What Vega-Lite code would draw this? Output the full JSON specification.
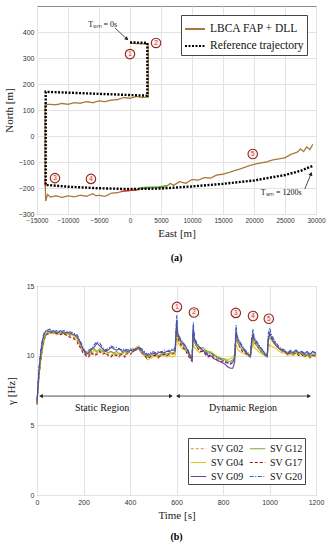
{
  "$schema": "https://vega.github.io/schema/vega-lite/v6.json",
  "padding": {"left": 2, "top": 5, "right": 10, "bottom": 2},
  "background": "white",
  "spacing": 18,
  "config": {
    "axis": {"labelFont": "Liberation Sans", "labelFontSize": 7, "labelColor": "#333333", "titleFont": "Liberation Serif", "titleFontSize": 11, "titleFontWeight": "normal", "titleColor": "#222222", "gridColor": "#e3e3e3", "domain": false, "ticks": false, "labelPadding": 3, "labelOverlap": false, "format": "d"},
    "view": {"stroke": "#8a8a8a"},
    "legend": {"labelFont": "Liberation Serif", "labelFontSize": 11.5, "labelColor": "#111111", "fillColor": "white", "strokeColor": "#444444", "padding": 3, "symbolType": "stroke", "symbolSize": 400, "symbolStrokeWidth": 1.8, "title": null, "rowPadding": -7}
  },
  "resolve": {"scale": {"x": "independent", "y": "independent", "color": "independent", "strokeDash": "independent"}, "legend": {"color": "independent", "strokeDash": "independent"}},
  "vconcat": [
    {
      "width": 279,
      "height": 208,
      "title": {"text": "(a)", "orient": "bottom", "font": "Liberation Serif", "fontSize": 10, "fontWeight": "bold", "offset": 14},
      "encoding": {
        "x": {"field": "east", "type": "quantitative", "scale": {"domain": [-15000, 30000]}, "axis": {"values": [-15000, -10000, -5000, 0, 5000, 10000, 15000, 20000, 25000, 30000], "title": "East [m]", "titlePadding": 4, "labelOverlap": false, "labelFlush": false, "labelFontSize": 6.5}},
        "y": {"field": "north", "type": "quantitative", "scale": {"domain": [-300, 500]}, "axis": {"values": [-300, -200, -100, 0, 100, 200, 300, 400], "title": "North [m]", "titlePadding": 4, "labelOverlap": false}}
      },
      "layer": [
        {
          "data": {"values": [
            {"series": "LBCA FAP + DLL", "i": 0, "east": 0, "north": 357},
            {"series": "LBCA FAP + DLL", "i": 1, "east": 1500, "north": 355},
            {"series": "LBCA FAP + DLL", "i": 2, "east": 2900, "north": 353},
            {"series": "LBCA FAP + DLL", "i": 3, "east": 2950, "north": 300},
            {"series": "LBCA FAP + DLL", "i": 4, "east": 2950, "north": 200},
            {"series": "LBCA FAP + DLL", "i": 5, "east": 2950, "north": 150},
            {"series": "LBCA FAP + DLL", "i": 6, "east": 2000, "north": 148},
            {"series": "LBCA FAP + DLL", "i": 7, "east": 1000, "north": 152},
            {"series": "LBCA FAP + DLL", "i": 8, "east": 0, "north": 145},
            {"series": "LBCA FAP + DLL", "i": 9, "east": -1000, "north": 148},
            {"series": "LBCA FAP + DLL", "i": 10, "east": -2000, "north": 140},
            {"series": "LBCA FAP + DLL", "i": 11, "east": -3000, "north": 138},
            {"series": "LBCA FAP + DLL", "i": 12, "east": -4000, "north": 132},
            {"series": "LBCA FAP + DLL", "i": 13, "east": -5000, "north": 135},
            {"series": "LBCA FAP + DLL", "i": 14, "east": -6000, "north": 128},
            {"series": "LBCA FAP + DLL", "i": 15, "east": -7000, "north": 132},
            {"series": "LBCA FAP + DLL", "i": 16, "east": -8000, "north": 126},
            {"series": "LBCA FAP + DLL", "i": 17, "east": -9000, "north": 128},
            {"series": "LBCA FAP + DLL", "i": 18, "east": -10000, "north": 122},
            {"series": "LBCA FAP + DLL", "i": 19, "east": -11000, "north": 125},
            {"series": "LBCA FAP + DLL", "i": 20, "east": -12000, "north": 120},
            {"series": "LBCA FAP + DLL", "i": 21, "east": -13000, "north": 122},
            {"series": "LBCA FAP + DLL", "i": 22, "east": -13700, "north": 120},
            {"series": "LBCA FAP + DLL", "i": 23, "east": -13700, "north": 0},
            {"series": "LBCA FAP + DLL", "i": 24, "east": -13700, "north": -150},
            {"series": "LBCA FAP + DLL", "i": 25, "east": -13600, "north": -250},
            {"series": "LBCA FAP + DLL", "i": 26, "east": -13300, "north": -225},
            {"series": "LBCA FAP + DLL", "i": 27, "east": -12800, "north": -235},
            {"series": "LBCA FAP + DLL", "i": 28, "east": -12000, "north": -230},
            {"series": "LBCA FAP + DLL", "i": 29, "east": -11000, "north": -236},
            {"series": "LBCA FAP + DLL", "i": 30, "east": -10000, "north": -230},
            {"series": "LBCA FAP + DLL", "i": 31, "east": -9000, "north": -234},
            {"series": "LBCA FAP + DLL", "i": 32, "east": -8000, "north": -228},
            {"series": "LBCA FAP + DLL", "i": 33, "east": -7000, "north": -232},
            {"series": "LBCA FAP + DLL", "i": 34, "east": -6000, "north": -222},
            {"series": "LBCA FAP + DLL", "i": 35, "east": -5500, "north": -230},
            {"series": "LBCA FAP + DLL", "i": 36, "east": -5000, "north": -228},
            {"series": "LBCA FAP + DLL", "i": 37, "east": -4000, "north": -232},
            {"series": "LBCA FAP + DLL", "i": 38, "east": -3000, "north": -220},
            {"series": "LBCA FAP + DLL", "i": 39, "east": -2000, "north": -218},
            {"series": "LBCA FAP + DLL", "i": 40, "east": -1000, "north": -212},
            {"series": "LBCA FAP + DLL", "i": 41, "east": 0, "north": -210},
            {"series": "LBCA FAP + DLL", "i": 42, "east": 1000, "north": -207},
            {"series": "LBCA FAP + DLL", "i": 43, "east": 2000, "north": -202},
            {"series": "LBCA FAP + DLL", "i": 44, "east": 3000, "north": -200},
            {"series": "LBCA FAP + DLL", "i": 45, "east": 4000, "north": -198},
            {"series": "LBCA FAP + DLL", "i": 46, "east": 5000, "north": -199},
            {"series": "LBCA FAP + DLL", "i": 47, "east": 6000, "north": -192},
            {"series": "LBCA FAP + DLL", "i": 48, "east": 6500, "north": -182},
            {"series": "LBCA FAP + DLL", "i": 49, "east": 7000, "north": -190},
            {"series": "LBCA FAP + DLL", "i": 50, "east": 8000, "north": -176},
            {"series": "LBCA FAP + DLL", "i": 51, "east": 9000, "north": -182},
            {"series": "LBCA FAP + DLL", "i": 52, "east": 10000, "north": -167},
            {"series": "LBCA FAP + DLL", "i": 53, "east": 11000, "north": -170},
            {"series": "LBCA FAP + DLL", "i": 54, "east": 12000, "north": -160},
            {"series": "LBCA FAP + DLL", "i": 55, "east": 13000, "north": -162},
            {"series": "LBCA FAP + DLL", "i": 56, "east": 14000, "north": -150},
            {"series": "LBCA FAP + DLL", "i": 57, "east": 15000, "north": -147},
            {"series": "LBCA FAP + DLL", "i": 58, "east": 16000, "north": -140},
            {"series": "LBCA FAP + DLL", "i": 59, "east": 17000, "north": -132},
            {"series": "LBCA FAP + DLL", "i": 60, "east": 18000, "north": -125},
            {"series": "LBCA FAP + DLL", "i": 61, "east": 19000, "north": -116},
            {"series": "LBCA FAP + DLL", "i": 62, "east": 20000, "north": -109},
            {"series": "LBCA FAP + DLL", "i": 63, "east": 21000, "north": -104},
            {"series": "LBCA FAP + DLL", "i": 64, "east": 22000, "north": -100},
            {"series": "LBCA FAP + DLL", "i": 65, "east": 23000, "north": -92},
            {"series": "LBCA FAP + DLL", "i": 66, "east": 24000, "north": -88},
            {"series": "LBCA FAP + DLL", "i": 67, "east": 25000, "north": -84},
            {"series": "LBCA FAP + DLL", "i": 68, "east": 26000, "north": -70},
            {"series": "LBCA FAP + DLL", "i": 69, "east": 27000, "north": -62},
            {"series": "LBCA FAP + DLL", "i": 70, "east": 27500, "north": -50},
            {"series": "LBCA FAP + DLL", "i": 71, "east": 28000, "north": -60},
            {"series": "LBCA FAP + DLL", "i": 72, "east": 28500, "north": -42},
            {"series": "LBCA FAP + DLL", "i": 73, "east": 29000, "north": -52},
            {"series": "LBCA FAP + DLL", "i": 74, "east": 29500, "north": -32}
          ]},
          "mark": {"type": "line", "strokeWidth": 1.3},
          "encoding": {
            "order": {"field": "i"},
            "color": {"field": "series", "type": "nominal", "scale": {"domain": ["LBCA FAP + DLL", "Reference trajectory"], "range": ["#a8793a", "#000000"]}, "legend": {"orient": "top-right", "offset": 9}},
            "strokeDash": {"field": "series", "type": "nominal", "scale": {"domain": ["LBCA FAP + DLL", "Reference trajectory"], "range": [[1, 0], [2, 1.5]]}, "legend": {"orient": "top-right", "offset": 9}}
          }
        },
        {
          "data": {"values": [
            {"seg": "r1", "i": 0, "east": -1500, "north": -213},
            {"seg": "r1", "i": 1, "east": 0, "north": -209},
            {"seg": "r1", "i": 2, "east": 1500, "north": -206},
            {"seg": "r2", "i": 0, "east": -13700, "north": -170},
            {"seg": "r2", "i": 1, "east": -13650, "north": -195}
          ]},
          "mark": {"type": "line", "strokeWidth": 1.3, "color": "#e0302a"},
          "encoding": {"detail": {"field": "seg"}, "order": {"field": "i"}}
        },
        {
          "data": {"values": [
            {"i": 0, "east": 1500, "north": -200},
            {"i": 1, "east": 3000, "north": -197},
            {"i": 2, "east": 4500, "north": -196},
            {"i": 3, "east": 6000, "north": -191}
          ]},
          "mark": {"type": "line", "strokeWidth": 1.3, "color": "#4caf3a"},
          "encoding": {"order": {"field": "i"}}
        },
        {
          "data": {"values": [
            {"series": "Reference trajectory", "i": 0, "east": 0, "north": 360},
            {"series": "Reference trajectory", "i": 1, "east": 2800, "north": 358},
            {"series": "Reference trajectory", "i": 2, "east": 2800, "north": 155},
            {"series": "Reference trajectory", "i": 3, "east": -13600, "north": 170},
            {"series": "Reference trajectory", "i": 4, "east": -13600, "north": -188},
            {"series": "Reference trajectory", "i": 5, "east": -10000, "north": -195},
            {"series": "Reference trajectory", "i": 6, "east": -5000, "north": -201},
            {"series": "Reference trajectory", "i": 7, "east": 0, "north": -204},
            {"series": "Reference trajectory", "i": 8, "east": 5000, "north": -202},
            {"series": "Reference trajectory", "i": 9, "east": 10000, "north": -194},
            {"series": "Reference trajectory", "i": 10, "east": 15000, "north": -184},
            {"series": "Reference trajectory", "i": 11, "east": 20000, "north": -171},
            {"series": "Reference trajectory", "i": 12, "east": 25000, "north": -150},
            {"series": "Reference trajectory", "i": 13, "east": 27500, "north": -134},
            {"series": "Reference trajectory", "i": 14, "east": 29500, "north": -115}
          ]},
          "mark": {"type": "line", "strokeWidth": 2.4},
          "encoding": {
            "order": {"field": "i"},
            "color": {"field": "series", "type": "nominal"},
            "strokeDash": {"field": "series", "type": "nominal"}
          }
        },
        {
          "data": {"values": [
            {"east": -2400, "north": 415, "east2": -500, "north2": 373},
            {"east": 28200, "north": -204, "east2": 29200, "north2": -145}
          ]},
          "mark": {"type": "rule", "color": "#222222", "strokeWidth": 0.8},
          "encoding": {"x2": {"field": "east2"}, "y2": {"field": "north2"}}
        },
        {
          "data": {"values": [{"east": -500, "north": 373}]},
          "mark": {"type": "point", "shape": "triangle-up", "filled": true, "color": "#222222", "size": 18, "angle": 132, "opacity": 1},
          "encoding": {}
        },
        {
          "data": {"values": [{"east": 29200, "north": -145}]},
          "mark": {"type": "point", "shape": "triangle-up", "filled": true, "color": "#222222", "size": 18, "angle": 21, "opacity": 1},
          "encoding": {}
        },
        {
          "data": {"values": [
            {"east": -4400, "north": 427, "label": "Tₛᵢₘ = 0s"},
            {"east": 24400, "north": -219, "label": "Tₛᵢₘ = 1200s"}
          ]},
          "mark": {"type": "text", "font": "Liberation Serif", "fontSize": 8, "color": "#111111"},
          "encoding": {"text": {"field": "label"}}
        },
        {
          "data": {"values": [
            {"east": 0, "north": 315, "n": "1"},
            {"east": 4200, "north": 358, "n": "2"},
            {"east": -12100, "north": -162, "n": "3"},
            {"east": -6300, "north": -165, "n": "4"},
            {"east": 19800, "north": -69, "n": "5"}
          ]},
          "mark": {"type": "point", "shape": "circle", "filled": true, "fill": "#fdeeee", "stroke": "#8b2a22", "strokeWidth": 1.1, "size": 90, "opacity": 1},
          "encoding": {}
        },
        {
          "data": {"values": [
            {"east": 0, "north": 315, "n": "1"},
            {"east": 4200, "north": 358, "n": "2"},
            {"east": -12100, "north": -162, "n": "3"},
            {"east": -6300, "north": -165, "n": "4"},
            {"east": 19800, "north": -69, "n": "5"}
          ]},
          "mark": {"type": "text", "font": "Liberation Sans", "fontSize": 6.5, "color": "#d0312d"},
          "encoding": {"text": {"field": "n"}}
        }
      ]
    },
    {
      "width": 279,
      "height": 209,
      "title": {"text": "(b)", "orient": "bottom", "font": "Liberation Serif", "fontSize": 10, "fontWeight": "bold", "offset": 12},
      "encoding": {
        "x": {"field": "t", "type": "quantitative", "scale": {"domain": [0, 1200]}, "axis": {"values": [0, 200, 400, 600, 800, 1000, 1200], "title": "Time [s]", "titlePadding": 4, "labelOverlap": false, "labelFlush": false}},
        "y": {"field": "gamma", "type": "quantitative", "scale": {"domain": [0, 15]}, "axis": {"values": [0, 5, 10, 15], "title": "γ [Hz]", "titlePadding": 10, "labelOverlap": false}}
      },
      "layer": [
        {
          "data": {"values": [
            {"t": 0, "G02": 6.6, "G04": 6.5, "G09": 6.7, "G12": 6.6, "G17": 6.5, "G20": 6.8},
            {"t": 8, "G02": 8.6, "G04": 8.3, "G09": 8.9, "G12": 8.5, "G17": 8.4, "G20": 9.1},
            {"t": 16, "G02": 9.9, "G04": 9.6, "G09": 10.2, "G12": 9.8, "G17": 9.7, "G20": 10.4},
            {"t": 24, "G02": 10.8, "G04": 10.5, "G09": 11.1, "G12": 10.7, "G17": 10.6, "G20": 11.3},
            {"t": 32, "G02": 11.4, "G04": 11.2, "G09": 11.6, "G12": 11.3, "G17": 11.2, "G20": 11.7},
            {"t": 40, "G02": 11.6, "G04": 11.5, "G09": 11.8, "G12": 11.6, "G17": 11.5, "G20": 11.8},
            {"t": 55, "G02": 11.7, "G04": 11.6, "G09": 11.7, "G12": 11.8, "G17": 11.6, "G20": 11.9},
            {"t": 70, "G02": 11.6, "G04": 11.7, "G09": 11.8, "G12": 11.6, "G17": 11.7, "G20": 11.7},
            {"t": 85, "G02": 11.7, "G04": 11.5, "G09": 11.6, "G12": 11.7, "G17": 11.6, "G20": 11.8},
            {"t": 100, "G02": 11.6, "G04": 11.6, "G09": 11.8, "G12": 11.6, "G17": 11.5, "G20": 11.7},
            {"t": 115, "G02": 11.5, "G04": 11.7, "G09": 11.6, "G12": 11.7, "G17": 11.6, "G20": 11.8},
            {"t": 130, "G02": 11.6, "G04": 11.5, "G09": 11.7, "G12": 11.6, "G17": 11.4, "G20": 11.7},
            {"t": 145, "G02": 11.4, "G04": 11.6, "G09": 11.6, "G12": 11.5, "G17": 11.3, "G20": 11.7},
            {"t": 160, "G02": 11.3, "G04": 11.4, "G09": 11.5, "G12": 11.5, "G17": 11.2, "G20": 11.6},
            {"t": 172, "G02": 11.1, "G04": 11.2, "G09": 11.4, "G12": 11.3, "G17": 11.0, "G20": 11.5},
            {"t": 185, "G02": 10.7, "G04": 10.8, "G09": 11.0, "G12": 10.9, "G17": 10.6, "G20": 11.1},
            {"t": 198, "G02": 10.3, "G04": 10.4, "G09": 10.5, "G12": 10.4, "G17": 10.2, "G20": 10.6},
            {"t": 210, "G02": 10.1, "G04": 10.2, "G09": 10.1, "G12": 10.3, "G17": 10.0, "G20": 10.2},
            {"t": 222, "G02": 10.0, "G04": 10.3, "G09": 10.2, "G12": 10.1, "G17": 9.9, "G20": 10.4},
            {"t": 234, "G02": 10.3, "G04": 10.1, "G09": 10.5, "G12": 10.4, "G17": 10.2, "G20": 10.5},
            {"t": 246, "G02": 10.1, "G04": 10.4, "G09": 10.6, "G12": 10.5, "G17": 10.0, "G20": 10.8},
            {"t": 258, "G02": 10.2, "G04": 10.2, "G09": 10.9, "G12": 10.3, "G17": 10.1, "G20": 11.0},
            {"t": 270, "G02": 10.4, "G04": 10.3, "G09": 10.7, "G12": 10.5, "G17": 10.3, "G20": 10.9},
            {"t": 282, "G02": 10.2, "G04": 10.4, "G09": 10.5, "G12": 10.3, "G17": 10.1, "G20": 10.6},
            {"t": 294, "G02": 10.3, "G04": 10.1, "G09": 10.3, "G12": 10.4, "G17": 10.2, "G20": 10.4},
            {"t": 306, "G02": 10.1, "G04": 10.2, "G09": 10.4, "G12": 10.2, "G17": 10.0, "G20": 10.5},
            {"t": 318, "G02": 10.0, "G04": 10.3, "G09": 10.6, "G12": 10.3, "G17": 9.9, "G20": 10.7},
            {"t": 330, "G02": 10.2, "G04": 10.1, "G09": 10.5, "G12": 10.2, "G17": 10.1, "G20": 10.6},
            {"t": 342, "G02": 10.1, "G04": 10.0, "G09": 10.4, "G12": 10.3, "G17": 10.0, "G20": 10.6},
            {"t": 354, "G02": 9.9, "G04": 10.2, "G09": 10.5, "G12": 10.1, "G17": 10.0, "G20": 10.5},
            {"t": 366, "G02": 10.2, "G04": 10.1, "G09": 10.3, "G12": 10.2, "G17": 10.1, "G20": 10.4},
            {"t": 378, "G02": 10.0, "G04": 10.3, "G09": 10.4, "G12": 10.3, "G17": 9.9, "G20": 10.5},
            {"t": 390, "G02": 10.3, "G04": 10.2, "G09": 10.3, "G12": 10.2, "G17": 10.2, "G20": 10.4},
            {"t": 402, "G02": 10.2, "G04": 10.4, "G09": 10.4, "G12": 10.4, "G17": 10.1, "G20": 10.5},
            {"t": 414, "G02": 10.4, "G04": 10.3, "G09": 10.3, "G12": 10.5, "G17": 10.3, "G20": 10.4},
            {"t": 426, "G02": 10.5, "G04": 10.6, "G09": 10.5, "G12": 10.4, "G17": 10.4, "G20": 10.5},
            {"t": 438, "G02": 10.4, "G04": 10.7, "G09": 10.6, "G12": 10.6, "G17": 10.5, "G20": 10.6},
            {"t": 450, "G02": 10.2, "G04": 10.3, "G09": 10.4, "G12": 10.3, "G17": 10.2, "G20": 10.5},
            {"t": 462, "G02": 10.0, "G04": 10.1, "G09": 10.2, "G12": 10.1, "G17": 10.0, "G20": 10.3},
            {"t": 474, "G02": 9.9, "G04": 9.7, "G09": 10.0, "G12": 9.9, "G17": 9.8, "G20": 10.1},
            {"t": 486, "G02": 9.9, "G04": 9.8, "G09": 10.1, "G12": 10.0, "G17": 9.9, "G20": 10.2},
            {"t": 498, "G02": 10.0, "G04": 9.9, "G09": 10.2, "G12": 10.1, "G17": 10.0, "G20": 10.3},
            {"t": 510, "G02": 10.1, "G04": 10.0, "G09": 10.1, "G12": 10.2, "G17": 10.0, "G20": 10.2},
            {"t": 522, "G02": 9.9, "G04": 9.8, "G09": 10.2, "G12": 10.0, "G17": 9.9, "G20": 10.3},
            {"t": 534, "G02": 10.0, "G04": 10.1, "G09": 10.3, "G12": 10.1, "G17": 10.0, "G20": 10.2},
            {"t": 546, "G02": 10.1, "G04": 10.0, "G09": 10.2, "G12": 10.2, "G17": 10.1, "G20": 10.4},
            {"t": 558, "G02": 10.0, "G04": 9.9, "G09": 10.3, "G12": 10.1, "G17": 10.0, "G20": 10.3},
            {"t": 570, "G02": 10.2, "G04": 10.0, "G09": 10.3, "G12": 10.2, "G17": 10.1, "G20": 10.4},
            {"t": 582, "G02": 10.1, "G04": 9.9, "G09": 10.4, "G12": 10.2, "G17": 10.1, "G20": 10.5},
            {"t": 594, "G02": 10.2, "G04": 10.0, "G09": 10.4, "G12": 10.3, "G17": 10.2, "G20": 10.5},
            {"t": 601, "G02": 12.1, "G04": 11.6, "G09": 12.6, "G12": 12.2, "G17": 12.0, "G20": 12.9},
            {"t": 605, "G02": 11.4, "G04": 11.0, "G09": 11.6, "G12": 11.5, "G17": 11.3, "G20": 11.7},
            {"t": 614, "G02": 11.0, "G04": 10.7, "G09": 11.2, "G12": 11.1, "G17": 10.9, "G20": 11.3},
            {"t": 626, "G02": 10.7, "G04": 10.5, "G09": 10.9, "G12": 10.8, "G17": 10.6, "G20": 11.0},
            {"t": 638, "G02": 10.5, "G04": 10.4, "G09": 10.7, "G12": 10.5, "G17": 10.4, "G20": 10.7},
            {"t": 650, "G02": 10.1, "G04": 10.2, "G09": 10.3, "G12": 10.2, "G17": 10.0, "G20": 10.4},
            {"t": 662, "G02": 9.8, "G04": 10.0, "G09": 9.8, "G12": 9.9, "G17": 9.7, "G20": 9.9},
            {"t": 667, "G02": 9.7, "G04": 9.9, "G09": 9.7, "G12": 9.8, "G17": 9.6, "G20": 9.8},
            {"t": 672, "G02": 11.9, "G04": 10.8, "G09": 12.0, "G12": 11.6, "G17": 11.8, "G20": 12.4},
            {"t": 677, "G02": 11.1, "G04": 10.6, "G09": 11.2, "G12": 11.0, "G17": 11.0, "G20": 11.3},
            {"t": 688, "G02": 10.7, "G04": 10.4, "G09": 10.8, "G12": 10.6, "G17": 10.6, "G20": 10.9},
            {"t": 700, "G02": 10.4, "G04": 10.2, "G09": 10.6, "G12": 10.5, "G17": 10.3, "G20": 10.6},
            {"t": 712, "G02": 10.4, "G04": 10.3, "G09": 10.4, "G12": 10.6, "G17": 10.3, "G20": 10.4},
            {"t": 724, "G02": 10.2, "G04": 10.4, "G09": 10.2, "G12": 10.4, "G17": 10.1, "G20": 10.3},
            {"t": 736, "G02": 10.0, "G04": 10.2, "G09": 10.0, "G12": 10.3, "G17": 9.9, "G20": 10.1},
            {"t": 748, "G02": 10.1, "G04": 10.3, "G09": 10.0, "G12": 10.2, "G17": 10.0, "G20": 10.2},
            {"t": 760, "G02": 9.9, "G04": 10.1, "G09": 9.8, "G12": 10.1, "G17": 9.8, "G20": 10.0},
            {"t": 772, "G02": 9.8, "G04": 10.0, "G09": 9.7, "G12": 9.9, "G17": 9.7, "G20": 9.9},
            {"t": 784, "G02": 9.7, "G04": 9.9, "G09": 9.6, "G12": 9.8, "G17": 9.6, "G20": 9.8},
            {"t": 796, "G02": 9.7, "G04": 9.8, "G09": 9.5, "G12": 9.8, "G17": 9.6, "G20": 9.7},
            {"t": 808, "G02": 9.6, "G04": 9.8, "G09": 9.4, "G12": 9.7, "G17": 9.5, "G20": 9.6},
            {"t": 820, "G02": 9.5, "G04": 9.7, "G09": 9.2, "G12": 9.6, "G17": 9.5, "G20": 9.5},
            {"t": 832, "G02": 9.5, "G04": 9.8, "G09": 9.1, "G12": 9.6, "G17": 9.4, "G20": 9.4},
            {"t": 842, "G02": 9.6, "G04": 9.9, "G09": 9.1, "G12": 9.7, "G17": 9.5, "G20": 9.5},
            {"t": 850, "G02": 9.9, "G04": 10.1, "G09": 9.5, "G12": 9.9, "G17": 9.8, "G20": 9.9},
            {"t": 856, "G02": 11.7, "G04": 10.9, "G09": 11.8, "G12": 11.5, "G17": 11.6, "G20": 12.2},
            {"t": 861, "G02": 11.1, "G04": 10.5, "G09": 11.3, "G12": 11.0, "G17": 11.0, "G20": 11.4},
            {"t": 872, "G02": 10.7, "G04": 10.3, "G09": 10.9, "G12": 10.7, "G17": 10.6, "G20": 11.0},
            {"t": 884, "G02": 10.4, "G04": 10.2, "G09": 10.6, "G12": 10.4, "G17": 10.3, "G20": 10.7},
            {"t": 896, "G02": 10.3, "G04": 10.1, "G09": 10.3, "G12": 10.3, "G17": 10.2, "G20": 10.4},
            {"t": 908, "G02": 10.1, "G04": 10.0, "G09": 10.1, "G12": 10.1, "G17": 10.0, "G20": 10.2},
            {"t": 918, "G02": 10.0, "G04": 9.9, "G09": 10.0, "G12": 9.9, "G17": 9.9, "G20": 10.0},
            {"t": 923, "G02": 10.9, "G04": 10.4, "G09": 11.0, "G12": 10.8, "G17": 10.8, "G20": 11.2},
            {"t": 929, "G02": 11.5, "G04": 10.9, "G09": 11.6, "G12": 11.3, "G17": 11.4, "G20": 11.9},
            {"t": 934, "G02": 11.1, "G04": 10.6, "G09": 11.2, "G12": 10.9, "G17": 11.0, "G20": 11.3},
            {"t": 946, "G02": 10.8, "G04": 10.4, "G09": 10.9, "G12": 10.7, "G17": 10.7, "G20": 11.0},
            {"t": 958, "G02": 10.5, "G04": 10.2, "G09": 10.6, "G12": 10.4, "G17": 10.4, "G20": 10.7},
            {"t": 970, "G02": 10.3, "G04": 10.1, "G09": 10.4, "G12": 10.2, "G17": 10.2, "G20": 10.4},
            {"t": 982, "G02": 10.1, "G04": 10.0, "G09": 10.1, "G12": 10.0, "G17": 10.0, "G20": 10.1},
            {"t": 990, "G02": 10.0, "G04": 9.9, "G09": 10.0, "G12": 9.9, "G17": 9.9, "G20": 10.0},
            {"t": 995, "G02": 11.2, "G04": 10.5, "G09": 11.3, "G12": 11.1, "G17": 11.1, "G20": 11.6},
            {"t": 1001, "G02": 11.6, "G04": 10.8, "G09": 11.6, "G12": 11.3, "G17": 11.5, "G20": 12.0},
            {"t": 1006, "G02": 11.5, "G04": 10.7, "G09": 11.4, "G12": 11.2, "G17": 11.3, "G20": 11.6},
            {"t": 1018, "G02": 11.1, "G04": 10.6, "G09": 11.0, "G12": 10.9, "G17": 11.0, "G20": 11.2},
            {"t": 1030, "G02": 10.8, "G04": 10.5, "G09": 10.7, "G12": 10.7, "G17": 10.7, "G20": 10.9},
            {"t": 1042, "G02": 10.6, "G04": 10.3, "G09": 10.5, "G12": 10.5, "G17": 10.5, "G20": 10.6},
            {"t": 1054, "G02": 10.4, "G04": 10.2, "G09": 10.4, "G12": 10.3, "G17": 10.4, "G20": 10.5},
            {"t": 1066, "G02": 10.3, "G04": 10.2, "G09": 10.3, "G12": 10.3, "G17": 10.3, "G20": 10.4},
            {"t": 1078, "G02": 10.2, "G04": 10.0, "G09": 10.1, "G12": 10.2, "G17": 10.1, "G20": 10.2},
            {"t": 1090, "G02": 10.3, "G04": 10.1, "G09": 10.3, "G12": 10.2, "G17": 10.2, "G20": 10.4},
            {"t": 1102, "G02": 10.1, "G04": 10.0, "G09": 10.2, "G12": 10.1, "G17": 10.1, "G20": 10.3},
            {"t": 1114, "G02": 10.3, "G04": 10.2, "G09": 10.4, "G12": 10.3, "G17": 10.2, "G20": 10.4},
            {"t": 1126, "G02": 10.1, "G04": 10.0, "G09": 10.2, "G12": 10.1, "G17": 10.0, "G20": 10.2},
            {"t": 1138, "G02": 10.2, "G04": 10.1, "G09": 10.3, "G12": 10.2, "G17": 10.1, "G20": 10.3},
            {"t": 1150, "G02": 10.0, "G04": 9.9, "G09": 10.1, "G12": 10.0, "G17": 9.9, "G20": 10.2},
            {"t": 1162, "G02": 10.2, "G04": 10.0, "G09": 10.3, "G12": 10.1, "G17": 10.1, "G20": 10.3},
            {"t": 1174, "G02": 9.9, "G04": 9.8, "G09": 10.1, "G12": 9.9, "G17": 9.9, "G20": 10.0},
            {"t": 1186, "G02": 10.1, "G04": 10.0, "G09": 10.3, "G12": 10.1, "G17": 10.0, "G20": 10.3},
            {"t": 1200, "G02": 10.0, "G04": 9.9, "G09": 10.1, "G12": 10.0, "G17": 10.0, "G20": 10.2}
          ]},
          "transform": [
            {"fold": ["G02", "G04", "G17", "G12", "G09", "G20"], "as": ["sv", "gamma"]},
            {"lookup": "sv", "from": {"data": {"values": [
              {"sv": "G02", "name": "SV G02"}, {"sv": "G04", "name": "SV G04"}, {"sv": "G09", "name": "SV G09"},
              {"sv": "G12", "name": "SV G12"}, {"sv": "G17", "name": "SV G17"}, {"sv": "G20", "name": "SV G20"}
            ]}, "key": "sv", "fields": ["name"]}}
          ],
          "mark": {"type": "line", "strokeWidth": 1.1},
          "encoding": {
            "color": {"field": "name", "type": "nominal", "scale": {"domain": ["SV G02", "SV G04", "SV G09", "SV G12", "SV G17", "SV G20"], "range": ["#d9884a", "#e3c21f", "#6b3fa0", "#77ac30", "#a2142f", "#2f5fc0"]}, "legend": {"orient": "bottom-right", "offset": 11, "columns": 2, "columnPadding": 3, "labelFontSize": 10, "symbolSize": 240, "symbolStrokeWidth": 1.2, "padding": 2, "rowPadding": -3}},
            "strokeDash": {"field": "name", "type": "nominal", "scale": {"domain": ["SV G02", "SV G04", "SV G09", "SV G12", "SV G17", "SV G20"], "range": [[3, 2], [1, 0], [1, 0], [1, 0], [3, 2], [4, 1.5, 1, 1.5]]}, "legend": {"orient": "bottom-right", "offset": 11, "columns": 2, "columnPadding": 3, "labelFontSize": 10, "symbolSize": 240, "symbolStrokeWidth": 1.2, "padding": 2, "rowPadding": -3}}
          }
        },
        {
          "data": {"values": [
            {"t": 17, "t2": 576, "gamma": 7.1},
            {"t": 606, "t2": 1170, "gamma": 7.1}
          ]},
          "mark": {"type": "rule", "color": "#222222", "strokeWidth": 0.8},
          "encoding": {"x2": {"field": "t2"}}
        },
        {
          "data": {"values": [{"t": 17, "gamma": 7.1}, {"t": 606, "gamma": 7.1}]},
          "mark": {"type": "point", "shape": "triangle-up", "filled": true, "color": "#222222", "size": 18, "angle": 270, "opacity": 1},
          "encoding": {}
        },
        {
          "data": {"values": [{"t": 576, "gamma": 7.1}, {"t": 1170, "gamma": 7.1}]},
          "mark": {"type": "point", "shape": "triangle-up", "filled": true, "color": "#222222", "size": 18, "angle": 90, "opacity": 1},
          "encoding": {}
        },
        {
          "data": {"values": [{"t": 280, "gamma": 6.25, "label": "Static Region"}, {"t": 886, "gamma": 6.25, "label": "Dynamic Region"}]},
          "mark": {"type": "text", "font": "Liberation Serif", "fontSize": 10, "color": "#111111"},
          "encoding": {"text": {"field": "label"}}
        },
        {
          "data": {"values": [
            {"t": 602, "gamma": 13.5, "n": "1"},
            {"t": 675, "gamma": 13.1, "n": "2"},
            {"t": 855, "gamma": 13.07, "n": "3"},
            {"t": 929, "gamma": 12.85, "n": "4"},
            {"t": 997, "gamma": 12.65, "n": "5"}
          ]},
          "mark": {"type": "point", "shape": "circle", "filled": true, "fill": "#fdeeee", "stroke": "#8b2a22", "strokeWidth": 1.1, "size": 90, "opacity": 1},
          "encoding": {}
        },
        {
          "data": {"values": [
            {"t": 602, "gamma": 13.5, "n": "1"},
            {"t": 675, "gamma": 13.1, "n": "2"},
            {"t": 855, "gamma": 13.07, "n": "3"},
            {"t": 929, "gamma": 12.85, "n": "4"},
            {"t": 997, "gamma": 12.65, "n": "5"}
          ]},
          "mark": {"type": "text", "font": "Liberation Sans", "fontSize": 6.5, "color": "#d0312d"},
          "encoding": {"text": {"field": "n"}}
        }
      ]
    }
  ]
}
